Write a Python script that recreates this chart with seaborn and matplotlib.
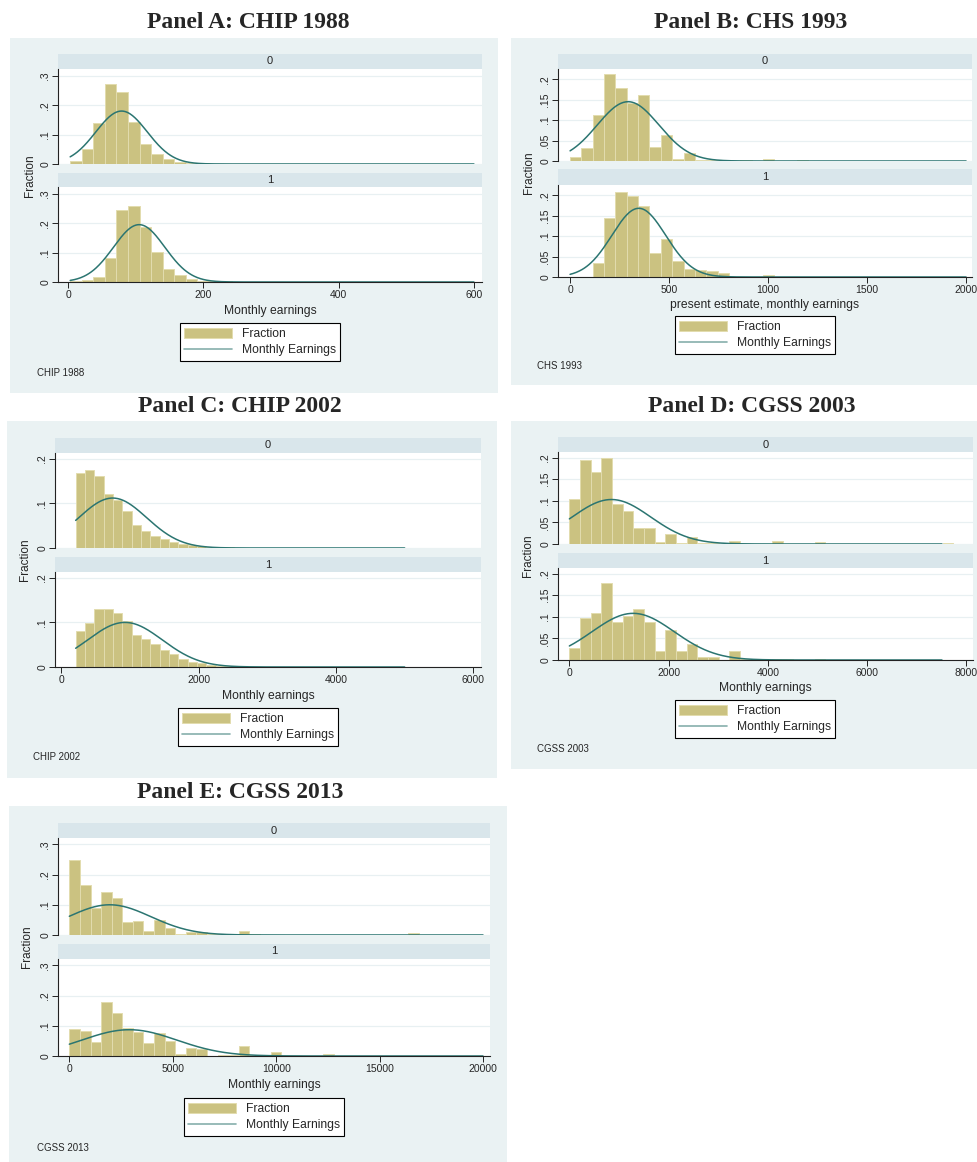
import numpy as np
import pandas as pd
import seaborn as sns
import matplotlib.pyplot as plt
from matplotlib.patches import Rectangle, Patch
from matplotlib.lines import Line2D

# ---------------- data ----------------
titles = ["Panel A: CHIP 1988", "Panel B: CHS 1993", "Panel C: CHIP 2002",
          "Panel D: CGSS 2003", "Panel E: CGSS 2013"]
notes = ["CHIP 1988", "CHS 1993", "CHIP 2002", "CGSS 2003", "CGSS 2013"]
xlabels = ["Monthly earnings", "present estimate, monthly earnings",
           "Monthly earnings", "Monthly earnings", "Monthly earnings"]
strip_labels = ["0", "1"]
legend_labels = ["Fraction", "Monthly Earnings"]

xticks = [[0, 200, 400, 600],
          [0, 500, 1000, 1500, 2000],
          [0, 2000, 4000, 6000],
          [0, 2000, 4000, 6000, 8000],
          [0, 5000, 10000, 15000, 20000]]
yticks = [[0, .1, .2, .3],
          [0, .05, .1, .15, .2],
          [0, .1, .2],
          [0, .05, .1, .15, .2],
          [0, .1, .2, .3]]
ytick_labels = [["0", ".1", ".2", ".3"],
                ["0", ".05", ".1", ".15", ".2"],
                ["0", ".1", ".2"],
                ["0", ".05", ".1", ".15", ".2"],
                ["0", ".1", ".2", ".3"]]

# histogram bins: first edge and bin width
bin_start = [3, 0, 209, 0, 0]
bin_width = [17.1, 57.3, 136, 215, 512]

# bar heights (fraction), group 0 / group 1
chip88_g0 = [0.010, 0.050, 0.139, 0.272, 0.245, 0.143, 0.068, 0.034, 0.017,
             0.008, 0.004, 0.005, 0.001, 0.001]
chip88_g1 = [0.002, 0.008, 0.017, 0.082, 0.245, 0.258, 0.188, 0.101, 0.044,
             0.025, 0.010, 0.005, 0.002, 0.002]
chs93_g0 = [0.010, 0.032, 0.113, 0.212, 0.178, 0.142, 0.162, 0.034, 0.064,
            0.005, 0.019, 0.003, 0.002, 0.001, 0.001, 0.003, 0.0, 0.006,
            0.0, 0.0, 0.003]
chs93_g1 = [0.0, 0.0, 0.034, 0.144, 0.207, 0.197, 0.174, 0.058, 0.093, 0.039,
            0.020, 0.017, 0.015, 0.009, 0.001, 0.0, 0.0, 0.006]
chip02_g0 = [0.168, 0.174, 0.162, 0.122, 0.108, 0.084, 0.051, 0.037, 0.028,
             0.021, 0.014, 0.010, 0.007, 0.0045, 0.003, 0.002, 0.002]
chip02_g1 = [0.081, 0.099, 0.131, 0.131, 0.121, 0.104, 0.072, 0.063, 0.052,
             0.037, 0.029, 0.017, 0.012, 0.009, 0.005, 0.003, 0.002]
cgss03_g0 = [0.105, 0.194, 0.167, 0.200, 0.092, 0.077, 0.036, 0.037, 0.005,
             0.023, 0.002, 0.016, 0.002, 0.003, 0.001, 0.008, 0.001, 0.001,
             0.0, 0.008, 0.0, 0.001, 0.0, 0.005, 0.0, 0.0, 0.0, 0.0, 0.0,
             0.0, 0.0, 0.0, 0.0, 0.0, 0.0, 0.002]
cgss03_g1 = [0.027, 0.097, 0.108, 0.178, 0.087, 0.102, 0.119, 0.087, 0.020,
             0.070, 0.020, 0.036, 0.007, 0.007, 0.001, 0.021, 0.002, 0.001,
             0.0, 0.002, 0.002, 0.0, 0.0, 0.002]
cgss13_g0 = [0.248, 0.164, 0.088, 0.143, 0.123, 0.043, 0.047, 0.014, 0.048,
             0.023, 0.002, 0.011, 0.011, 0.004, 0.003, 0.002, 0.014, 0.002,
             0.0, 0.0, 0.0, 0.0, 0.0, 0.0, 0.0, 0.0, 0.0, 0.0, 0.0, 0.0,
             0.0, 0.0, 0.005]
cgss13_g1 = [0.088, 0.082, 0.045, 0.180, 0.143, 0.093, 0.079, 0.042, 0.075,
             0.051, 0.006, 0.026, 0.023, 0.0, 0.004, 0.004, 0.032, 0.002,
             0.0, 0.012, 0.0, 0.0, 0.0, 0.0, 0.005]
bars = [(chip88_g0, chip88_g1), (chs93_g0, chs93_g1), (chip02_g0, chip02_g1),
        (cgss03_g0, cgss03_g1), (cgss13_g0, cgss13_g1)]

# fitted normal overlay: (mean, sd, peak height) per group, and x range
normal_g0 = [(79, 38, 0.180), (293, 156, 0.145), (748, 495, 0.112),
             (848, 793, 0.103), (1950, 1994, 0.100)]
normal_g1 = [(105, 38, 0.195), (347, 136, 0.168), (927, 545, 0.100),
             (1285, 829, 0.108), (2900, 2293, 0.087)]
curve_range = [(3, 600), (0, 2000), (209, 5000), (0, 7510), (0, 20000)]

# ---------------- layout (pixels) ----------------
W, H = 977, 1162
layout = [
    dict(bg=(10, 38, 498, 393), title=(248, 22), ax_x=(58, 482), s0=(54, 69), a0=(69, 164),
         s1=(173, 187), a1=(187, 282), ylab_x=30, xlab_y=311, leg=(260, 342), note=(37, 373),
         xlim=(-15, 612), ylim=0.323),
    dict(bg=(511, 38, 977, 385), title=(751, 22), ax_x=(558, 972), s0=(54, 69), a0=(69, 161),
         s1=(169, 185), a1=(185, 277), ylab_x=529, xlab_y=305, leg=(755, 335), note=(537, 366),
         xlim=(-61, 2030), ylim=0.225),
    dict(bg=(7, 421, 497, 778), title=(240, 406), ax_x=(55, 481), s0=(438, 453), a0=(453, 548),
         s1=(557, 572), a1=(572, 667), ylab_x=25, xlab_y=696, leg=(258, 727), note=(33, 757),
         xlim=(-92, 6112), ylim=0.213),
    dict(bg=(511, 421, 977, 769), title=(752, 406), ax_x=(558, 973), s0=(437, 452), a0=(452, 544),
         s1=(553, 568), a1=(568, 660), ylab_x=528, xlab_y=688, leg=(755, 719), note=(537, 749),
         xlim=(-229, 8136), ylim=0.213),
    dict(bg=(9, 806, 507, 1162), title=(240, 793), ax_x=(58, 490), s0=(823, 838), a0=(838, 935),
         s1=(944, 959), a1=(959, 1056), ylab_x=27, xlab_y=1085, leg=(264, 1117), note=(37, 1148),
         xlim=(-548, 20339), ylim=0.321),
]

BG = "#eaf2f3"
STRIP = "#d9e6eb"
BAR = "#cbc281"
EDGE = "#e2dcae"
LINE = "#2b7571"
LINE_LEG = "#86afac"
GRID = "#e8f0f2"

sns.set_style("ticks")
plt.rcParams["font.family"] = ["Liberation Sans", "DejaVu Sans"]


def fx(x):
    return x / W


def fy(y):
    return 1 - y / H


def rect(x0, y0, x1, y1):
    return [fx(x0), fy(y1), (x1 - x0) / W, (y1 - y0) / H]


fig = plt.figure(figsize=(W / 100, H / 100), dpi=100)

for i, L in enumerate(layout):
    bx0, by0, bx1, by1 = L["bg"]
    fig.add_artist(Rectangle((fx(bx0), fy(by1)), (bx1 - bx0) / W, (by1 - by0) / H,
                             transform=fig.transFigure, facecolor=BG, edgecolor="none", zorder=-2))
    fig.text(fx(L["title"][0]), fy(L["title"][1]), titles[i], family="Liberation Serif",
             fontweight="bold", fontsize=17, ha="center", va="center")
    x0, x1 = L["ax_x"]
    for g, (skey, akey) in enumerate([("s0", "a0"), ("s1", "a1")]):
        sy0, sy1 = L[skey]
        fig.add_artist(Rectangle((fx(x0), fy(sy1)), (x1 - x0) / W, (sy1 - sy0) / H,
                                 transform=fig.transFigure, facecolor=STRIP, edgecolor="none",
                                 zorder=-1))
        fig.text(fx((x0 + x1) / 2), fy((sy0 + sy1) / 2), strip_labels[g], fontsize=8,
                 ha="center", va="center")
        ay0, ay1 = L[akey]
        ax = fig.add_axes(rect(x0, ay0, x1, ay1))
        ax.set_facecolor("white")
        h = bars[i][g]
        w = bin_width[i]
        df = pd.DataFrame({
            "earn": bin_start[i] + w * (np.arange(len(h)) + 0.5),
            "frac": h,
        })
        sns.histplot(data=df, x="earn", weights="frac", binwidth=w,
                     binrange=(bin_start[i], bin_start[i] + w * len(h)),
                     ax=ax, color=BAR, edgecolor=EDGE, linewidth=0.7, alpha=1)
        mu, sd, peak = (normal_g0 if g == 0 else normal_g1)[i]
        lo, hi = curve_range[i]
        xs = np.linspace(lo, hi, 500)
        ys = peak * np.exp(-0.5 * ((xs - mu) / sd) ** 2)
        sns.lineplot(x=xs, y=ys, ax=ax, color=LINE, linewidth=1.1, estimator=None, sort=False)
        ax.set_xlim(*L["xlim"])
        ax.set_ylim(0, L["ylim"])
        ax.set_xlabel("")
        ax.set_ylabel("")
        ax.set_yticks(yticks[i])
        ax.set_yticklabels(ytick_labels[i], rotation=90, va="center", fontsize=7.5)
        ax.yaxis.grid(True, color=GRID, linewidth=0.9)
        ax.set_axisbelow(True)
        for s in ["top", "right"]:
            ax.spines[s].set_visible(False)
        ax.spines["left"].set_linewidth(0.8)
        ax.spines["left"].set_color("#222222")
        ax.tick_params(axis="y", length=4, width=0.7, pad=1.5, color="#222222")
        if g == 0:
            ax.spines["bottom"].set_visible(False)
            ax.tick_params(axis="x", bottom=False, labelbottom=False)
        else:
            ax.spines["bottom"].set_linewidth(0.8)
            ax.spines["bottom"].set_color("#222222")
            ax.set_xticks(xticks[i])
            ax.set_xticklabels([str(t) for t in xticks[i]], fontsize=7.5)
            ax.tick_params(axis="x", length=4, width=0.7, pad=1.5, color="#222222")
    # y label between the two plots
    fig.text(fx(L["ylab_x"]), fy((L["a0"][0] + L["a1"][1]) / 2), "Fraction", rotation=90,
             fontsize=8.5, ha="center", va="center")
    fig.text(fx((x0 + x1) / 2), fy(L["xlab_y"]), xlabels[i], fontsize=8.7,
             ha="center", va="center")
    handles = [Patch(facecolor=BAR, edgecolor=EDGE, linewidth=0.7),
               Line2D([], [], color=LINE_LEG, linewidth=1.2)]
    leg = fig.legend(handles, legend_labels, loc="center",
                     bbox_to_anchor=(fx(L["leg"][0]), fy(L["leg"][1])),
                     fontsize=8.7, frameon=True, fancybox=False, framealpha=1,
                     edgecolor="black", handlelength=4, handleheight=0.9,
                     labelspacing=0.35, borderpad=0.35, handletextpad=0.8,
                     borderaxespad=0)
    leg.get_frame().set_linewidth(0.8)
    fig.text(fx(L["note"][0]), fy(L["note"][1]), notes[i], fontsize=7,
             ha="left", va="center")

fig.savefig("out.png", dpi=100)
